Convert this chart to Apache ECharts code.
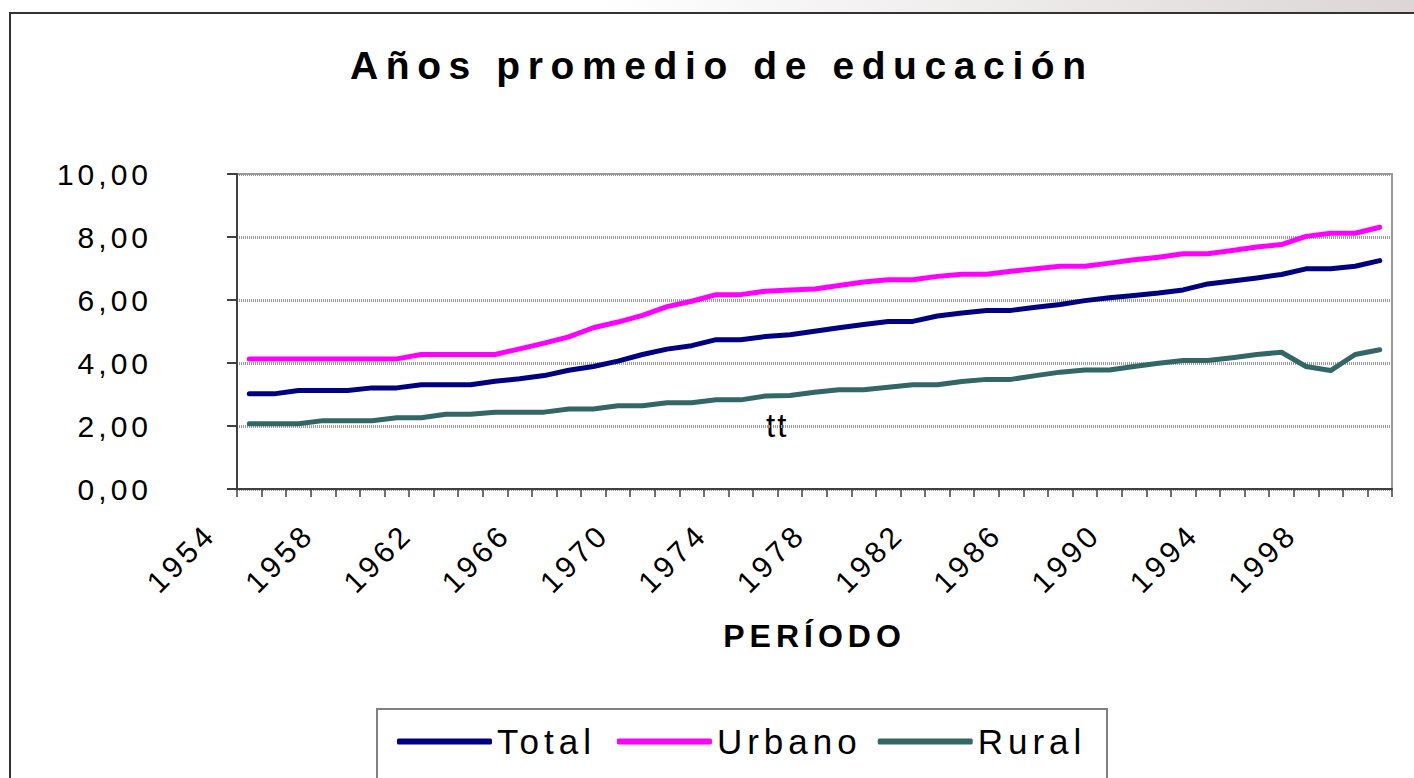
<!DOCTYPE html>
<html>
<head>
<meta charset="utf-8">
<title>Años promedio de educación</title>
<script src="https://cdn.jsdelivr.net/npm/echarts@6/dist/echarts.min.js"></script>
<style>
  html, body { margin: 0; padding: 0; background: #fff; }
  #chart { width: 1414px; height: 778px; }
  /* letter spacing by font size (svg renderer) */
  #chart text[style*="39px"] { letter-spacing: 7.6px; }
  #chart text[style*="32px"] { letter-spacing: 5px; }
  #chart text[style*="30px"] { letter-spacing: 4px; }
  #chart text[style*="35px"] { letter-spacing: 5px; }
  #chart text[style*="33px"] { letter-spacing: 2px; }
</style>
</head>
<body>
<div id="chart"></div>
<script>
// años 1954 - 2000
const years = [
  "1954", "1955", "1956", "1957", "1958", "1959", "1960", "1961", "1962", "1963",
  "1964", "1965", "1966", "1967", "1968", "1969", "1970", "1971", "1972", "1973",
  "1974", "1975", "1976", "1977", "1978", "1979", "1980", "1981", "1982", "1983",
  "1984", "1985", "1986", "1987", "1988", "1989", "1990", "1991", "1992", "1993",
  "1994", "1995", "1996", "1997", "1998", "1999", "2000"
];

const total = [
  3.02, 3.02, 3.13, 3.13, 3.13, 3.21, 3.21, 3.31, 3.31, 3.31,
  3.42, 3.50, 3.60, 3.77, 3.89, 4.06, 4.27, 4.44, 4.55, 4.74,
  4.74, 4.84, 4.90, 5.01, 5.12, 5.22, 5.32, 5.32, 5.49, 5.59,
  5.67, 5.67, 5.77, 5.86, 5.98, 6.07, 6.14, 6.22, 6.32, 6.51,
  6.60, 6.70, 6.81, 6.99, 6.99, 7.07, 7.25
];

const urbano = [
  4.13, 4.13, 4.13, 4.13, 4.13, 4.13, 4.13, 4.27, 4.27, 4.27,
  4.27, 4.45, 4.63, 4.83, 5.12, 5.30, 5.51, 5.79, 5.96, 6.17,
  6.17, 6.28, 6.32, 6.35, 6.46, 6.57, 6.64, 6.64, 6.75, 6.82,
  6.82, 6.91, 6.99, 7.07, 7.07, 7.17, 7.28, 7.36, 7.47, 7.47,
  7.57, 7.68, 7.76, 8.02, 8.12, 8.12, 8.31
];

const rural = [
  2.07, 2.07, 2.07, 2.17, 2.17, 2.17, 2.26, 2.26, 2.37, 2.37,
  2.44, 2.44, 2.44, 2.54, 2.54, 2.64, 2.64, 2.74, 2.74, 2.83,
  2.83, 2.95, 2.97, 3.07, 3.15, 3.15, 3.23, 3.31, 3.31, 3.41,
  3.48, 3.48, 3.60, 3.71, 3.78, 3.78, 3.89, 3.99, 4.08, 4.08,
  4.17, 4.27, 4.34, 3.89, 3.76, 4.27, 4.42
];

const yMin = 0;
const yMax = 10;
const yStep = 2;

const font = "'Liberation Sans', Arial, sans-serif";
const axisColor = "#404040";

const chart = echarts.init(document.getElementById("chart"), null, { renderer: "svg" });

const option = {
  animation: false,
  backgroundColor: "#fff",
  textStyle: { fontFamily: font, color: "#000" },
  title: {
    text: "Años promedio de educación",
    left: 345,
    top: 41,
    textStyle: { fontSize: 39, fontWeight: "bold", color: "#000", fontFamily: font }
  },
  legend: {
    left: 392,
    top: 719,
    itemWidth: 95,
    itemHeight: 6,
    itemGap: 46,
    icon: "roundRect",
    textStyle: { fontSize: 35, color: "#000", fontFamily: font },
    data: ["Total", "Urbano", "Rural"]
  },
  grid: {
    left: 237,
    right: 22,
    top: 174,
    bottom: 289,
    show: true,
    borderColor: "#999",
    borderWidth: 2,
    containLabel: false,
    outerBoundsMode: "none"
  },
  xAxis: {
    type: "category",
    data: years,
    boundaryGap: true,
    name: "PERÍODO",
    nameLocation: "middle",
    nameGap: 131,
    nameTextStyle: { fontSize: 32, fontWeight: "bold", color: "#000", fontFamily: font },
    axisLine: { show: true, lineStyle: { color: axisColor, width: 2 } },
    axisTick: { show: true, interval: 0, length: 8, lineStyle: { color: axisColor, width: 1.5 } },
    axisLabel: {
      interval: 3,
      rotate: 45,
      margin: 1,
      padding: [0, 55, 0, 0],
      fontSize: 30,
      color: "#000",
      fontFamily: font
    },
    splitLine: { show: false }
  },
  yAxis: {
    type: "value",
    min: yMin,
    max: yMax,
    interval: yStep,
    axisLine: { show: true, lineStyle: { color: axisColor, width: 2 } },
    axisTick: { show: true, length: 10, lineStyle: { color: axisColor, width: 2 } },
    axisLabel: {
      margin: 85,
      fontSize: 30,
      color: "#000",
      fontFamily: font,
      formatter: v => v.toFixed(2).replace(".", ",")
    },
    splitLine: { show: true, lineStyle: { color: "#999", width: 3, type: [1, 1] } }
  },
  series: [
    {
      name: "Total",
      type: "line",
      data: total,
      symbol: "none",
      lineStyle: { color: "#000080", width: 5, cap: "round", join: "round" },
      itemStyle: { color: "#000080" }
    },
    {
      name: "Urbano",
      type: "line",
      data: urbano,
      symbol: "none",
      lineStyle: { color: "#ff00ff", width: 5, cap: "round", join: "round" },
      itemStyle: { color: "#ff00ff" }
    },
    {
      name: "Rural",
      type: "line",
      data: rural,
      symbol: "none",
      lineStyle: { color: "#336666", width: 5, cap: "round", join: "round" },
      itemStyle: { color: "#336666" }
    }
  ],
  graphic: [
    // franja gris arriba a la derecha
    {
      type: "rect",
      silent: true,
      z: -10,
      shape: { x: 600, y: 0, width: 814, height: 12 },
      style: {
        fill: new echarts.graphic.LinearGradient(0, 0, 1, 0, [
          { offset: 0, color: "#ffffff" },
          { offset: 1, color: "#dcd6d6" }
        ])
      }
    },
    // marco del gráfico
    {
      type: "polyline",
      silent: true,
      shape: { points: [[10, 790], [10, 13], [1420, 13]] },
      style: { stroke: "#333", lineWidth: 2, fill: null }
    },
    // caja de la leyenda
    {
      type: "rect",
      silent: true,
      shape: { x: 377, y: 709, width: 730, height: 90 },
      style: { stroke: "#808080", lineWidth: 2, fill: null }
    },
    {
      type: "text",
      left: 766,
      top: 409,
      style: { text: "tt", fontSize: 33, fill: "#000", fontFamily: font }
    }
  ]
};

chart.setOption(option);
</script>
</body>
</html>
